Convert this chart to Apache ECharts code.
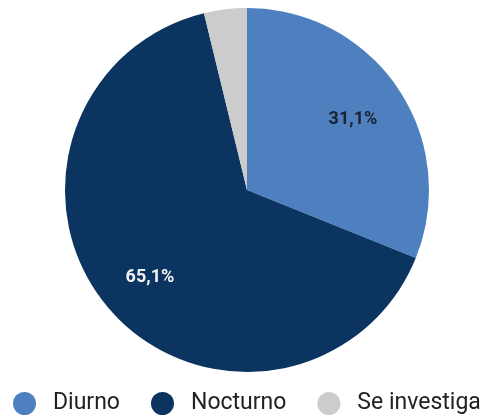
<!DOCTYPE html>
<html>
<head>
<meta charset="utf-8">
<script src="https://cdn.jsdelivr.net/npm/echarts@6/dist/echarts.min.js"></script>
<style>
  html, body { margin: 0; padding: 0; background: #fff; }
  #chart { width: 482px; height: 416px; }
</style>
</head>
<body>
<div id="chart"></div>
<script>
const categories = ['Diurno', 'Nocturno', 'Se investiga'];
const values = [31.1, 65.1, 3.8];
const colors = ['#4e80bf', '#0c3461', '#cccccc'];
const labelColors = ['#1b2233', '#f2f2f2', '#333'];
const labelShift = [[28, -18], [-26, 26], [0, 0]];

const chart = echarts.init(document.getElementById('chart'));

chart.setOption({
  animation: false,
  legend: {
    top: 392,
    left: 13,
    right: 0,
    padding: 0,
    icon: 'circle',
    itemWidth: 23,
    itemHeight: 23,
    itemGap: 31,
    textStyle: { fontFamily: 'Roboto', fontSize: 23, color: '#222', padding: [0, 0, 0, 12] },
    data: categories
  },
  series: [
    {
      type: 'pie',
      center: [247, 190],
      radius: 182,
      startAngle: 90,
      clockwise: true,
      silent: true,
      label: {
        position: 'inside',
        fontFamily: 'Roboto',
        fontWeight: 'bold',
        fontSize: 18,
        formatter: (p) => p.value.toFixed(1).replace('.', ',') + '%'
      },
      labelLine: { show: false },
      data: categories.map((name, i) => ({
        name: name,
        value: values[i],
        itemStyle: { color: colors[i] },
        label: { color: labelColors[i], offset: labelShift[i], show: values[i] > 10 }
      }))
    }
  ]
});
</script>
</body>
</html>
